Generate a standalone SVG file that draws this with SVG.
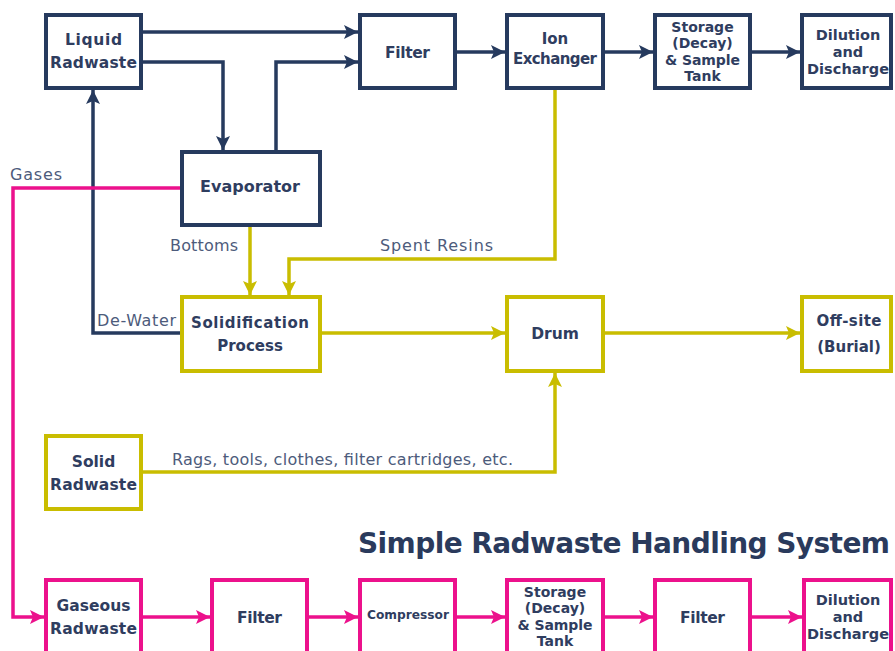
<svg xmlns="http://www.w3.org/2000/svg" width="895" height="651" viewBox="0 0 895 651">
<style>
.nb{fill:#fff;stroke-width:4}
.navy{stroke:#263a5e}
.yel{stroke:#c9bd00}
.pink{stroke:#ec118c}
.c{fill:none;stroke-width:3.5}
.t{font-family:"DejaVu Sans","Liberation Sans",sans-serif;font-weight:bold;fill:#2f3d5f;text-anchor:middle}
.l{font-family:"DejaVu Sans","Liberation Sans",sans-serif;font-size:16px;fill:#4d5b7b}
</style>
<defs>
<marker id="an" markerUnits="userSpaceOnUse" markerWidth="15" markerHeight="14" refX="14" refY="7" orient="auto"><path d="M0,0 L14,7 L0,14 L3,7 z" fill="#263a5e"/></marker>
<marker id="ay" markerUnits="userSpaceOnUse" markerWidth="15" markerHeight="14" refX="14" refY="7" orient="auto"><path d="M0,0 L14,7 L0,14 L3,7 z" fill="#c9bd00"/></marker>
<marker id="ap" markerUnits="userSpaceOnUse" markerWidth="15" markerHeight="14" refX="14" refY="7" orient="auto"><path d="M0,0 L14,7 L0,14 L3,7 z" fill="#ec118c"/></marker>
</defs>
<rect width="895" height="651" fill="#fff"/>

<g id="connectors">
<path class="c navy" d="M143,32 H358" marker-end="url(#an)"/>
<path class="c navy" d="M143,62 H223 V150" marker-end="url(#an)"/>
<path class="c navy" d="M276,150 V62 H358" marker-end="url(#an)"/>
<path class="c navy" d="M180,333 H93 V90" marker-end="url(#an)"/>
<path class="c navy" d="M457,52 H505" marker-end="url(#an)"/>
<path class="c navy" d="M605,52 H653" marker-end="url(#an)"/>
<path class="c navy" d="M752,52 H800" marker-end="url(#an)"/>
<path class="c yel" d="M250,227 V295" marker-end="url(#ay)"/>
<path class="c yel" d="M555,90 V259 H289 V295" marker-end="url(#ay)"/>
<path class="c yel" d="M322,333 H505" marker-end="url(#ay)"/>
<path class="c yel" d="M605,333 H800" marker-end="url(#ay)"/>
<path class="c yel" d="M143,472 H555 V373" marker-end="url(#ay)"/>
<path class="c pink" d="M180,188 H13 V617 H44" marker-end="url(#ap)"/>
<path class="c pink" d="M143,617 H210" marker-end="url(#ap)"/>
<path class="c pink" d="M309,617 H358" marker-end="url(#ap)"/>
<path class="c pink" d="M457,617 H505" marker-end="url(#ap)"/>
<path class="c pink" d="M605,617 H653" marker-end="url(#ap)"/>
<path class="c pink" d="M752,617 H802" marker-end="url(#ap)"/>
</g>

<g id="liquid-radwaste"><rect class="nb navy" x="46" y="15" width="95" height="73"/>
<text class="t" font-size="15.5" x="93.5" y="45" textLength="57">Liquid</text>
<text class="t" font-size="15.5" x="93.5" y="68" textLength="87">Radwaste</text></g>
<g id="filter-top"><rect class="nb navy" x="360" y="15" width="95" height="73"/>
<text class="t" font-size="15.5" x="407.5" y="58" textLength="45">Filter</text></g>
<g id="ion-exchanger"><rect class="nb navy" x="507" y="15" width="96" height="73"/>
<text class="t" font-size="15" font-weight="normal" fill="#26344f" x="555" y="44">Ion</text>
<text class="t" font-size="15" font-weight="normal" fill="#26344f" x="555" y="64" textLength="84">Exchanger</text></g>
<g id="storage-top"><rect class="nb navy" x="655" y="15" width="95" height="73"/>
<text class="t" font-size="14" x="702.5" y="32">Storage</text>
<text class="t" font-size="14" x="702.5" y="48">(Decay)</text>
<text class="t" font-size="14" x="702.5" y="65" textLength="75">&amp; Sample</text>
<text class="t" font-size="14" x="702.5" y="81">Tank</text></g>
<g id="dilution-top"><rect class="nb navy" x="802" y="15" width="89" height="73"/>
<text class="t" font-size="14.5" x="848" y="40">Dilution</text>
<text class="t" font-size="14.5" x="848" y="57">and</text>
<text class="t" font-size="14.5" x="848" y="74" textLength="82">Discharge</text></g>
<g id="evaporator"><rect class="nb navy" x="182" y="152" width="138" height="73"/>
<text class="t" font-size="16" x="250" y="192" textLength="100">Evaporator</text></g>

<g id="solidification"><rect class="nb yel" x="182" y="297" width="138" height="74"/>
<text class="t" font-size="15" x="250" y="328" textLength="118">Solidification</text>
<text class="t" font-size="15" x="250" y="351">Process</text></g>
<g id="drum"><rect class="nb yel" x="507" y="297" width="96" height="74"/>
<text class="t" font-size="15.5" x="555" y="339">Drum</text></g>
<g id="offsite"><rect class="nb yel" x="802" y="297" width="89" height="74"/>
<text class="t" font-size="15" x="849" y="326" textLength="65">Off-site</text>
<text class="t" font-size="15" x="849" y="352">(Burial)</text></g>
<g id="solid-radwaste"><rect class="nb yel" x="46" y="436" width="95" height="73"/>
<text class="t" font-size="15.5" x="93.5" y="467">Solid</text>
<text class="t" font-size="15.5" x="93.5" y="490" textLength="87">Radwaste</text></g>

<g id="gaseous-radwaste"><rect class="nb pink" x="46" y="580" width="95" height="80"/>
<text class="t" font-size="15.5" x="93.5" y="611">Gaseous</text>
<text class="t" font-size="15.5" x="93.5" y="634" textLength="87">Radwaste</text></g>
<g id="filter-gas"><rect class="nb pink" x="212" y="580" width="95" height="80"/>
<text class="t" font-size="15.5" x="259.5" y="623" textLength="45">Filter</text></g>
<g id="compressor"><rect class="nb pink" x="360" y="580" width="95" height="80"/>
<text class="t" font-size="12.2" x="408" y="619" textLength="82">Compressor</text></g>
<g id="storage-gas"><rect class="nb pink" x="507" y="580" width="96" height="80"/>
<text class="t" font-size="14" x="555" y="597">Storage</text>
<text class="t" font-size="14" x="555" y="613">(Decay)</text>
<text class="t" font-size="14" x="555" y="630" textLength="75">&amp; Sample</text>
<text class="t" font-size="14" x="555" y="646">Tank</text></g>
<g id="filter-gas2"><rect class="nb pink" x="655" y="580" width="95" height="80"/>
<text class="t" font-size="15.5" x="702.5" y="623" textLength="45">Filter</text></g>
<g id="dilution-gas"><rect class="nb pink" x="804" y="580" width="87" height="80"/>
<text class="t" font-size="14.5" x="848" y="605">Dilution</text>
<text class="t" font-size="14.5" x="848" y="622">and</text>
<text class="t" font-size="14.5" x="848" y="639" textLength="82">Discharge</text></g>

<g id="labels">
<text class="l" x="10" y="180" textLength="52">Gases</text>
<text class="l" x="170" y="251" textLength="68">Bottoms</text>
<text class="l" x="380" y="251" textLength="113">Spent Resins</text>
<text class="l" x="97" y="326" textLength="79">De-Water</text>
<text class="l" x="172" y="465" textLength="341">Rags, tools, clothes, filter cartridges, etc.</text>
<text x="358" y="553" font-family="DejaVu Sans, Liberation Sans, sans-serif" font-weight="bold" font-size="28" fill="#2a3a5c" textLength="532">Simple Radwaste Handling System</text>
</g>
</svg>
